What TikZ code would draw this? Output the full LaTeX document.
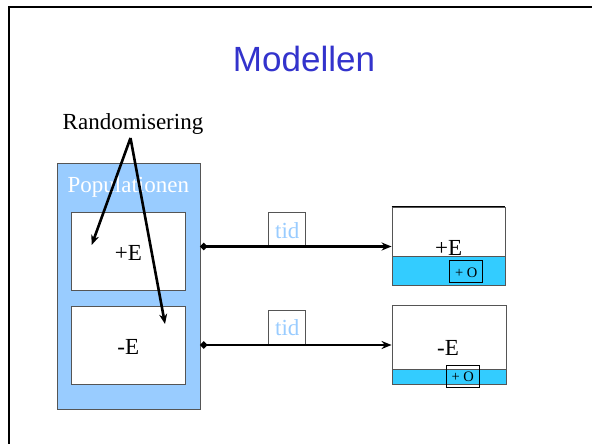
\documentclass[tikz,border=0pt]{standalone}
\usepackage{fontspec}
\setmainfont{Liberation Serif}
\newfontfamily\titlefont{Liberation Sans}
\usetikzlibrary{arrows.meta}
\definecolor{popblue}{HTML}{99CCFF}
\definecolor{bandcyan}{HTML}{33CCFF}
\definecolor{titleblue}{HTML}{3333CC}
\definecolor{boxgray}{HTML}{555555}
\begin{document}
\begin{tikzpicture}[x=1pt,y=-1pt,
  txt/.style={inner sep=0pt,anchor=base,font=\fontsize{23}{25}\selectfont},
  smalltxt/.style={inner sep=0pt,anchor=base,font=\fontsize{14.5}{16}\selectfont},
  popbox/.style={draw=boxgray,line width=1pt,fill=popblue,inner sep=0pt},
  whitebox/.style={draw=boxgray,line width=0.9pt,fill=white,inner sep=0pt},
  bandbox/.style={draw=boxgray,line width=0.9pt,fill=bandcyan,inner sep=0pt},
  obox/.style={draw=black,line width=0.9pt,inner sep=0pt,minimum width=33pt,minimum height=22.5pt},
  tidbox/.style={draw=boxgray,line width=0.8pt,fill=white,inner sep=0pt,minimum width=37.4pt},
  randarrow/.style={line width=2.6pt,-{Stealth[length=10pt,width=8pt]}},
  timearrow/.style={line width=2.6pt,{Circle[length=6.5pt]}-{Stealth[length=10pt,width=8pt]}}]
\useasboundingbox (0,0) rectangle (592,444);
\fill[white] (0,0) rectangle (592,444);
% slide frame
\draw[line width=2pt] (8.5,444) -- (8.5,6.7) -- (592,6.7);
% title
\node[inner sep=0pt,anchor=base,font=\titlefont\fontsize{35}{38}\selectfont,text=titleblue] (title) at (304,71.7) {Modellen};
% population
\node[popbox,minimum width=143pt,minimum height=246pt] (pop) at (128.5,286) {};
\node[txt,text=white] (poptxt) at (128.3,192.7) {Populationen};
\node[whitebox,minimum width=113.3pt,minimum height=78.4pt] (pe) at (128.4,251.5) {};
\node[whitebox,minimum width=113.3pt,minimum height=78pt] (me) at (128.4,345) {};
\node[txt] (petxt) at (128.3,260.7) {+E};
\node[txt] (metxt) at (128.3,354) {-E};
% right boxes
\node[whitebox,minimum width=113pt,minimum height=78.4pt] (rb1) at (448.5,246.5) {};
\node[bandbox,minimum width=113pt,minimum height=29pt] (band1) at (448.5,271.2) {};
\draw[black,line width=0.9pt] (rb1.north west) -- (rb1.north east);
\node[txt] (rb1txt) at (448.7,255.5) {+E};
\node[obox] (o1) at (466.3,271.3) {};
\node[smalltxt] (o1txt) at (466.3,277.3) {+ O};
\node[whitebox,minimum width=114pt,minimum height=78.6pt] (rb2) at (449,345) {};
\node[bandbox,minimum width=114pt,minimum height=15pt] (band2) at (449,376.8) {};
\node[txt] (rb2txt) at (448,355) {-E};
\node[obox,minimum height=22.3pt] (o2) at (462.7,376.2) {};
\node[smalltxt] (o2txt) at (462.7,381) {+ O};
% time arrows
\node[tidbox,minimum height=33.7pt] (tid1) at (287,229.2) {};
\node[txt,text=popblue] (tid1txt) at (287.3,238.3) {tid};
\node[tidbox,minimum height=35pt] (tid2) at (287,327.5) {};
\node[txt,text=popblue] (tid2txt) at (287.3,335.5) {tid};
\draw[timearrow] (pop.east |- rb1.west) -- (rb1.west);
\draw[timearrow] (pop.east |- rb2.west) -- (rb2.west);
% randomisering
\node[txt] (rand) at (133,129.3) {Randomisering};
\coordinate (apex) at (130.5,138);
\coordinate (endA) at (91.7,245);
\coordinate (endB) at (165,324);
\draw[randarrow] (apex) -- (endA);
\draw[randarrow] (apex) -- (endB);
\end{tikzpicture}
\end{document}
